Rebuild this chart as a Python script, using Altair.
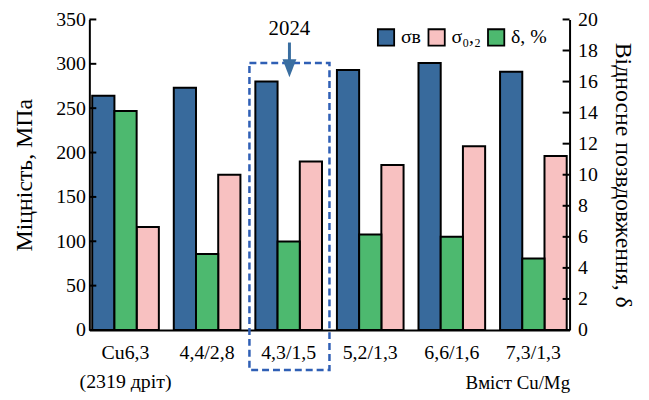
import altair as alt
import pandas as pd

categories = ["Cu6,3", "4,4/2,8", "4,3/1,5", "5,2/1,3", "6,6/1,6", "7,3/1,3"]
sigma_b = [264, 273, 280, 293, 301, 291]
sigma_02 = [116, 175, 190, 186, 207, 196]
delta = [14.1, 4.9, 5.7, 6.15, 6.0, 4.6]

series_names = ["σв", "σ₀,₂", "δ, %"]
bar_order = ["σв", "δ, %", "σ₀,₂"]
colors = ["#386A9C", "#F8C1C1", "#4DB96F"]
left_ticks = [0, 50, 100, 150, 200, 250, 300, 350]
right_ticks = [0, 2, 4, 6, 8, 10, 12, 14, 16, 18, 20]

highlight_cat = "4,3/1,5"
highlight_label = "2024"
box_top, box_bottom = 301, -45
arrow_top, arrow_bottom, arrow_head = 324, 300, 295
label_y = 328

W, H = 484, 313
FONT = "Liberation Serif"

left_df = pd.DataFrame({
    "cat": categories * 2,
    "series": [series_names[0]] * len(categories) + [series_names[1]] * len(categories),
    "value": sigma_b + sigma_02,
})
green_df = pd.DataFrame({"cat": categories, "series": series_names[2], "value": delta})
box_df = pd.DataFrame({"cat": [highlight_cat], "top": [box_top], "bottom": [box_bottom],
                       "a1": [arrow_top], "a2": [arrow_bottom], "ah": [arrow_head],
                       "ly": [label_y], "txt": [highlight_label]})
lt_df = pd.DataFrame({"v": left_ticks})
rt_df = pd.DataFrame({"v": right_ticks})

x_scale = alt.Scale(domain=categories, paddingInner=0.183, paddingOuter=0.035)
box_x_scale = alt.Scale(domain=categories, paddingInner=0, paddingOuter=0)
xo_scale = alt.Scale(domain=bar_order, paddingInner=0, paddingOuter=0)
color_scale = alt.Scale(domain=series_names, range=colors)
yl = alt.Scale(domain=[0, 350], nice=False)
yr = alt.Scale(domain=[0, 20], nice=False)

left_bars = alt.Chart(left_df).mark_bar(stroke="black", strokeWidth=2).encode(
    x=alt.X("cat:N", scale=x_scale, sort=categories,
            axis=alt.Axis(title="Вміст Cu/Mg", ticks=False, labelAngle=0,
                          labelExpr="datum.value == 'Cu6,3' ? ['Cu6,3', '(2319 дріт)'] : datum.label",
                          labelLineHeight=29, labelPadding=13, labelFontSize=20,
                          titleAnchor="end", titleBaseline="middle", titleY=53,
                          titleFontSize=19, titleFontWeight="normal")),
    xOffset=alt.XOffset("series:N", scale=xo_scale, sort=bar_order),
    y=alt.Y("value:Q", scale=yl,
            axis=alt.Axis(title="Міцність, МПа", orient="left", values=left_ticks, ticks=False,
                          labelPadding=4, labelFontSize=20, titleFontSize=24,
                          titlePadding=19, titleFontWeight="normal", grid=False)),
    color=alt.Color("series:N", scale=color_scale,
                    legend=alt.Legend(title=None, orient="none", legendX=289, legendY=8,
                                      direction="horizontal", symbolType="square",
                                      symbolSize=270, symbolStrokeColor="black",
                                      symbolStrokeWidth=1.8, labelFontSize=20,
                                      labelFont=FONT, columnPadding=3, labelOffset=5)),
)

green_bars = alt.Chart(green_df).mark_bar(stroke="black", strokeWidth=2).encode(
    x=alt.X("cat:N", scale=x_scale, sort=categories, axis=None),
    xOffset=alt.XOffset("series:N", scale=xo_scale, sort=bar_order),
    y=alt.Y("value:Q", scale=yr,
            axis=alt.Axis(title="Відносне позвдовження, δ", orient="right", values=right_ticks,
                          ticks=False, labelPadding=8, labelFontSize=20, titleFontSize=24,
                          titlePadding=13, titleFontWeight="normal", grid=False)),
    color=alt.Color("series:N", scale=color_scale),
)

box = alt.Chart(box_df).mark_rect(filled=False, stroke="#2F5FB5", strokeWidth=2.5,
                                  strokeDash=[7, 4]).encode(
    x=alt.X("cat:N", scale=box_x_scale, sort=categories, axis=None),
    y=alt.Y("top:Q", scale=yl, axis=None),
    y2="bottom:Q",
)

shaft = alt.Chart(box_df).mark_rule(color="#3A6EA0", strokeWidth=3).encode(
    x=alt.X("cat:N", scale=box_x_scale, sort=categories, axis=None),
    y=alt.Y("a1:Q", scale=yl, axis=None),
    y2="a2:Q",
)

head = alt.Chart(box_df).mark_point(shape="M-1,-1.3L1,-1.3L0,1.3Z", filled=True,
                                    color="#3A6EA0", size=196, opacity=1).encode(
    x=alt.X("cat:N", scale=box_x_scale, sort=categories, axis=None),
    y=alt.Y("ah:Q", scale=yl, axis=None),
)

label = alt.Chart(box_df).mark_text(font=FONT, fontSize=21, baseline="bottom",
                                    color="black").encode(
    x=alt.X("cat:N", scale=box_x_scale, sort=categories, axis=None),
    y=alt.Y("ly:Q", scale=yl, axis=None),
    text="txt:N",
)

lticks = alt.Chart(lt_df).mark_rule(color="black", strokeWidth=2).encode(
    y=alt.Y("v:Q", scale=yl, axis=None),
    x=alt.value(0), x2=alt.value(7),
)
rticks = alt.Chart(rt_df).mark_rule(color="black", strokeWidth=2).encode(
    y=alt.Y("v:Q", scale=yr, axis=None),
    x=alt.value(W - 7), x2=alt.value(W),
)

chart = alt.layer(left_bars, green_bars, box, shaft, head, label, lticks, rticks).resolve_scale(
    x="independent", y="independent"
).properties(
    width=W, height=H,
    autosize=alt.AutoSizeParams(type="none"),
    padding={"left": 82, "right": 72, "top": 10, "bottom": 68},
).configure_view(stroke=None).configure_axis(
    labelFont=FONT, titleFont=FONT, labelColor="black", titleColor="black",
    domainColor="black", domainWidth=2,
).configure_text(font=FONT)

chart.save("out.html", embed_options={"renderer": "svg", "actions": False})
